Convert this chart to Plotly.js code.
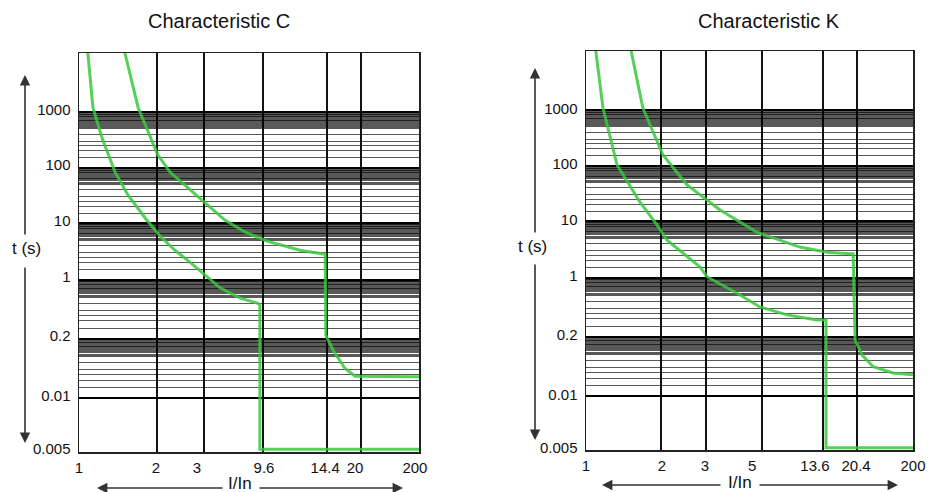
<!DOCTYPE html>
<html>
<head>
<meta charset="utf-8">
<script src="https://cdn.plot.ly/plotly-3.0.1.min.js"></script>
<style>html,body{margin:0;padding:0;background:#fff;}#chart{width:931px;height:492px;}</style>
</head>
<body>
<div id="chart"></div>
<script>
// ---- Tick labels and their positions (grid units: x 0..100 across the frame, y one unit per labelled band) ----
const yTickText = ['0.005', '0.01', '0.2', '1', '10', '100', '1000'];
const yTickPos = [0, 0.94, 1.99, 3.02, 4.01, 4.99, 5.96];

const xTextC = ['1', '2', '3', '9.6', '14.4', '20', '200'];
const xLabelPosC = [0, 22.6, 34.7, 54.4, 72.4, 81.2, 98.8];
const xGridPosC = [0, 22.9, 36.8, 54.1, 72.9, 82.9, 100];

const xTextK = ['1', '2', '3', '5', '13.6', '20.4', '200'];
const xLabelPosK = [0, 23.2, 36.4, 50.8, 70.0, 82.6, 100];
const xGridPosK = [0, 22.9, 36.7, 53.8, 72.5, 82.9, 100];

// ---- Characteristic C curves ----
const cLowX = [2.6, 4.1, 6.8, 10.6, 14.4, 19.4, 23.8, 28.2, 32.6, 36.8, 41.5, 47.4, 52.6, 53.2, 53.2, 100];
const cLowY = [7.0, 6.04, 5.51, 4.91, 4.51, 4.11, 3.79, 3.54, 3.33, 3.11, 2.88, 2.70, 2.61, 2.58, 0.05, 0.05];
const cHighX = [13.5, 17.4, 23.2, 26.8, 37.1, 42.9, 48.8, 55.3, 65.0, 72.4, 72.6, 74.7, 78.2, 81.2, 100];
const cHighY = [7.0, 6.04, 5.21, 4.91, 4.37, 4.07, 3.86, 3.70, 3.54, 3.47, 2.05, 1.79, 1.47, 1.33, 1.32];

// ---- Characteristic K curves ----
const kLowX = [3.0, 5.2, 9.5, 16.5, 21.7, 24.8, 34.9, 37.0, 46.2, 53.2, 61.5, 70.6, 73.4, 73.4, 100];
const kLowY = [7.0, 6.0, 5.0, 4.35, 3.95, 3.68, 3.21, 3.04, 2.75, 2.51, 2.37, 2.28, 2.28, 0.04, 0.04];
const kHighX = [13.8, 17.4, 23.5, 30.9, 41.0, 52.3, 65.4, 73.7, 81.7, 82.3, 84.4, 87.8, 93.9, 100];
const kHighY = [7.0, 6.0, 5.18, 4.65, 4.21, 3.82, 3.56, 3.47, 3.44, 1.93, 1.67, 1.46, 1.35, 1.32];

// ---- log-paper style inner lines within each labelled band ----
const subSteps = [1.5, 2, 2.5, 3, 4, 5, 5.25, 5.5, 5.75, 6, 6.25, 6.5, 6.75, 7, 7.25, 7.5, 7.75, 8, 8.25, 8.5, 8.75, 9, 9.25, 9.5, 9.75];
const yMinor = [];
for (let i = 2; i < yTickPos.length; i++) {
  const U = yTickPos[i], L = yTickPos[i - 1];
  subSteps.forEach(k => yMinor.push(L + (U - L) * Math.log10(k)));
}

const W = 931, H = 492;
const FONT = '"Liberation Sans", Arial, sans-serif';
const green = 'rgba(55,200,60,0.85)';

const traces = [
  {x: cLowX, y: cLowY, xaxis: 'x', yaxis: 'y', mode: 'lines', line: {color: green, width: 3}, hoverinfo: 'skip'},
  {x: cHighX, y: cHighY, xaxis: 'x', yaxis: 'y', mode: 'lines', line: {color: green, width: 3}, hoverinfo: 'skip'},
  {x: kLowX, y: kLowY, xaxis: 'x2', yaxis: 'y2', mode: 'lines', line: {color: green, width: 3}, hoverinfo: 'skip'},
  {x: kHighX, y: kHighY, xaxis: 'x2', yaxis: 'y2', mode: 'lines', line: {color: green, width: 3}, hoverinfo: 'skip'}
];

function xAxis(domain, labelPos, labels, gridPos, anchor) {
  return {
    domain: domain, range: [0, 100], anchor: anchor,
    tickmode: 'array', tickvals: labelPos, ticktext: labels,
    showgrid: false, zeroline: false, ticks: '',
    minor: {tickmode: 'array', tickvals: gridPos, showgrid: true, gridcolor: '#111', gridwidth: 2, ticks: ''},
    showline: true, mirror: true, linecolor: '#222', linewidth: 1.5,
    tickfont: {family: FONT, size: 15, color: '#111'},
    ticklabelstandoff: 1,
    fixedrange: true
  };
}
function yAxis(domain, anchor, shift) {
  return {
    domain: domain, range: [0, 7], anchor: anchor,
    tickmode: 'array', tickvals: yTickPos, ticktext: yTickText,
    showgrid: true, gridcolor: '#000', gridwidth: 2, zeroline: false, ticks: '',
    minor: {tickmode: 'array', tickvals: yMinor, showgrid: true, gridcolor: 'rgba(0,0,0,0.65)', gridwidth: 1, ticks: ''},
    showline: true, mirror: true, linecolor: '#222', linewidth: 1.5,
    tickfont: {family: FONT, size: 15, color: '#111'},
    ticklabelshift: shift, ticklabelstandoff: 4,
    fixedrange: true
  };
}

function px(x) { return x / W; }
function py(y) { return (H - y) / H; }

function arrow(hx, hy, tx, ty) {
  return {xref: 'paper', yref: 'paper', x: px(hx), y: py(hy), axref: 'pixel', ayref: 'pixel',
          ax: tx - hx, ay: ty - hy, text: '', showarrow: true, arrowhead: 2, arrowsize: 1.3,
          arrowwidth: 1.6, arrowcolor: '#333'};
}
function label(text, x, y, size) {
  return {xref: 'paper', yref: 'paper', x: px(x), y: py(y), xanchor: 'center', yanchor: 'middle',
          text: text, showarrow: false, font: {family: FONT, size: size, color: '#111'}};
}

const layout = {
  width: W, height: H,
  margin: {l: 0, r: 0, t: 0, b: 0},
  paper_bgcolor: '#fff', plot_bgcolor: '#fff',
  showlegend: false,
  xaxis: xAxis([79 / W, 419 / W], xLabelPosC, xTextC, xGridPosC, 'y'),
  yaxis: yAxis([(H - 452) / H, (H - 53) / H], 'x', -3),
  xaxis2: xAxis([586 / W, 913 / W], xLabelPosK, xTextK, xGridPosK, 'y2'),
  yaxis2: yAxis([(H - 450) / H, (H - 51) / H], 'x2', -2),
  annotations: [
    label('Characteristic C', 219, 21, 20),
    label('Characteristic K', 769, 21, 20),
    label('t (s)', 26, 248, 17),
    label('t (s)', 532, 247, 17),
    label('I/In', 240, 483, 17),
    label('I/In', 740, 482, 17),
    arrow(25, 75, 25, 236),
    arrow(25, 443, 25, 266),
    arrow(535, 68, 535, 234),
    arrow(535, 440, 535, 263),
    arrow(97, 488, 224, 488),
    arrow(403, 488, 258, 488),
    arrow(602, 485, 722, 485),
    arrow(898, 485, 758, 485)
  ]
};

Plotly.newPlot('chart', traces, layout, {displayModeBar: false, staticPlot: true});
</script>
</body>
</html>
